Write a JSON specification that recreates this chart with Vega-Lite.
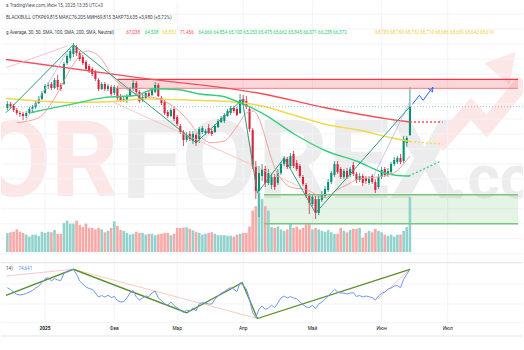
{
"$schema":"https://vega.github.io/schema/vega-lite/v6.json",
"width":524,"height":350,
"autosize":{"type":"fit","contains":"padding"},
"padding":0,
"background":"#ffffff",
"config":{"view":{"stroke":null},"font":"Roboto"},
"datasets":{
"bars":[
{"i":-12,"o":73.46,"h":74.40,"l":73.19,"c":73.99,"v":21.7,"r":56.3},
{"i":-11,"o":73.99,"h":74.26,"l":73.33,"c":73.73,"v":22.7,"r":54.5},
{"i":-10,"o":73.73,"h":73.99,"l":72.93,"c":73.19,"v":23.3,"r":52},
{"i":-9,"o":73.19,"h":73.46,"l":72.53,"c":72.79,"v":26,"r":49.7},
{"i":-8,"o":72.79,"h":73.06,"l":72.26,"c":72.66,"v":23.3,"r":49},
{"i":-7,"o":72.66,"h":72.93,"l":71.86,"c":72.39,"v":22,"r":49.5},
{"i":-6,"o":72.39,"h":73.06,"l":72.13,"c":72.79,"v":20,"r":50.5},
{"i":-5,"o":72.79,"h":73.59,"l":72.66,"c":73.33,"v":17.7,"r":52},
{"i":-4,"o":73.33,"h":73.86,"l":72.93,"c":73.59,"v":20,"r":53.5},
{"i":-3,"o":73.59,"h":74.40,"l":73.33,"c":74.13,"v":20,"r":56},
{"i":-2,"o":74.13,"h":75.06,"l":73.99,"c":74.66,"v":18.3,"r":58},
{"i":-1,"o":74.66,"h":75.73,"l":74.53,"c":75.46,"v":23.3,"r":61.5},
{"i":0,"o":75.46,"h":76.67,"l":75.33,"c":76.40,"v":22,"r":65},
{"i":1,"o":76.40,"h":76.93,"l":76.00,"c":76.53,"v":23.3,"r":66.3},
{"i":2,"o":76.67,"h":76.93,"l":75.86,"c":76.13,"v":22.7,"r":63},
{"i":3,"o":76.13,"h":77.47,"l":76.00,"c":77.20,"v":25.3,"r":65.5},
{"i":4,"o":77.20,"h":77.87,"l":75.86,"c":76.26,"v":21,"r":64},
{"i":5,"o":76.53,"h":76.80,"l":75.73,"c":76.00,"v":21,"r":63.5},
{"i":6,"o":76.67,"h":79.60,"l":76.53,"c":79.33,"v":33.3,"r":70.5},
{"i":7,"o":79.47,"h":80.67,"l":79.20,"c":80.40,"v":36,"r":72.5},
{"i":8,"o":80.14,"h":81.34,"l":79.74,"c":81.07,"v":32.7,"r":74},
{"i":9,"o":80.67,"h":82.14,"l":80.27,"c":81.74,"v":32.7,"r":74.7},
{"i":10,"o":81.60,"h":81.87,"l":80.40,"c":80.80,"v":36,"r":69.7},
{"i":11,"o":80.80,"h":81.07,"l":79.74,"c":80.00,"v":31,"r":63},
{"i":12,"o":80.27,"h":80.54,"l":79.20,"c":79.47,"v":28.7,"r":60},
{"i":13,"o":79.60,"h":79.87,"l":78.40,"c":78.67,"v":32.7,"r":57},
{"i":14,"o":79.07,"h":79.33,"l":78.13,"c":78.40,"v":27.7,"r":55.5},
{"i":15,"o":78.67,"h":78.93,"l":77.73,"c":78.00,"v":27.7,"r":54.7},
{"i":16,"o":78.27,"h":78.53,"l":77.07,"c":77.33,"v":26,"r":51},
{"i":17,"o":77.20,"h":77.47,"l":75.73,"c":76.00,"v":27.7,"r":47},
{"i":18,"o":76.00,"h":76.93,"l":75.86,"c":76.67,"v":26,"r":48.5},
{"i":19,"o":76.67,"h":76.93,"l":75.73,"c":76.00,"v":22.7,"r":47},
{"i":20,"o":76.00,"h":76.67,"l":75.73,"c":76.40,"v":24.3,"r":48.7},
{"i":21,"o":76.26,"h":76.53,"l":75.06,"c":75.33,"v":27.7,"r":46.5},
{"i":22,"o":75.46,"h":76.53,"l":75.20,"c":76.26,"v":35.3,"r":47.5},
{"i":23,"o":76.13,"h":76.40,"l":74.53,"c":74.80,"v":30,"r":43.5},
{"i":24,"o":75.06,"h":75.33,"l":74.26,"c":74.40,"v":25.3,"r":42},
{"i":25,"o":74.53,"h":74.93,"l":74.26,"c":74.66,"v":24.3,"r":42.5},
{"i":26,"o":74.40,"h":75.33,"l":74.13,"c":75.06,"v":22,"r":46},
{"i":27,"o":75.06,"h":76.26,"l":74.93,"c":76.00,"v":20,"r":51},
{"i":28,"o":76.00,"h":77.33,"l":75.73,"c":76.80,"v":21,"r":53.5},
{"i":29,"o":76.80,"h":77.07,"l":75.33,"c":75.60,"v":23.3,"r":47},
{"i":30,"o":75.60,"h":75.86,"l":74.13,"c":74.40,"v":22,"r":44},
{"i":31,"o":74.53,"h":75.33,"l":74.26,"c":74.93,"v":22,"r":46},
{"i":32,"o":74.80,"h":75.73,"l":74.66,"c":75.46,"v":20,"r":48},
{"i":33,"o":75.46,"h":75.73,"l":74.80,"c":75.06,"v":21,"r":47.5},
{"i":34,"o":75.20,"h":76.13,"l":75.06,"c":75.86,"v":21,"r":51},
{"i":35,"o":75.60,"h":76.93,"l":75.46,"c":76.53,"v":19.3,"r":53},
{"i":36,"o":76.53,"h":76.80,"l":74.93,"c":75.06,"v":20.3,"r":46},
{"i":37,"o":74.80,"h":75.06,"l":73.86,"c":74.13,"v":21,"r":43.5},
{"i":38,"o":74.26,"h":74.53,"l":72.53,"c":72.79,"v":22,"r":40},
{"i":39,"o":72.93,"h":73.19,"l":72.13,"c":72.39,"v":22,"r":39},
{"i":40,"o":72.39,"h":73.46,"l":72.26,"c":73.19,"v":19.3,"r":42},
{"i":41,"o":73.33,"h":73.59,"l":71.73,"c":71.99,"v":21,"r":38.5},
{"i":42,"o":72.26,"h":72.53,"l":71.06,"c":71.32,"v":27.7,"r":36.3},
{"i":43,"o":71.06,"h":71.32,"l":69.99,"c":70.26,"v":27.7,"r":34},
{"i":44,"o":70.26,"h":70.52,"l":68.39,"c":69.19,"v":28.3,"r":31.5},
{"i":45,"o":69.19,"h":70.26,"l":68.92,"c":69.86,"v":28.3,"r":34},
{"i":46,"o":69.99,"h":70.39,"l":69.06,"c":69.32,"v":26.7,"r":33},
{"i":47,"o":69.06,"h":70.39,"l":68.65,"c":69.99,"v":25,"r":36},
{"i":48,"o":69.86,"h":70.12,"l":68.39,"c":68.79,"v":23.3,"r":33},
{"i":49,"o":69.32,"h":70.92,"l":68.79,"c":70.66,"v":22,"r":40},
{"i":50,"o":70.26,"h":71.06,"l":69.99,"c":70.79,"v":20,"r":41.5},
{"i":51,"o":70.12,"h":70.66,"l":69.86,"c":70.39,"v":21,"r":40.7},
{"i":52,"o":70.79,"h":71.32,"l":69.99,"c":70.12,"v":22,"r":40},
{"i":53,"o":70.39,"h":70.66,"l":69.72,"c":69.99,"v":22.7,"r":40},
{"i":54,"o":70.26,"h":71.32,"l":70.12,"c":71.06,"v":21,"r":44.7},
{"i":55,"o":70.92,"h":71.99,"l":70.79,"c":71.73,"v":19.3,"r":48},
{"i":56,"o":71.59,"h":72.39,"l":71.46,"c":72.13,"v":19.3,"r":50.7},
{"i":57,"o":71.73,"h":72.79,"l":71.46,"c":72.53,"v":19.3,"r":52.5},
{"i":58,"o":72.39,"h":73.33,"l":72.26,"c":73.06,"v":18.7,"r":54.7},
{"i":59,"o":72.79,"h":73.73,"l":72.53,"c":73.46,"v":18.7,"r":56.3},
{"i":60,"o":73.46,"h":73.73,"l":72.79,"c":73.06,"v":17.7,"r":54.7},
{"i":61,"o":73.33,"h":73.59,"l":72.39,"c":72.53,"v":20,"r":52.5},
{"i":62,"o":72.79,"h":75.33,"l":72.66,"c":74.53,"v":21,"r":61.3},
{"i":63,"o":74.66,"h":75.20,"l":73.86,"c":74.13,"v":22,"r":58.7},
{"i":64,"o":74.40,"h":75.06,"l":73.33,"c":73.59,"v":22,"r":55},
{"i":65,"o":73.33,"h":73.59,"l":70.26,"c":70.66,"v":29.3,"r":44.7},
{"i":66,"o":70.52,"h":70.79,"l":65.32,"c":65.72,"v":47.7,"r":31.3},
{"i":67,"o":65.72,"h":66.38,"l":61.31,"c":62.38,"v":52.7,"r":26.3},
{"i":68,"o":62.38,"h":65.72,"l":58.91,"c":64.78,"v":67.7,"r":34.7},
{"i":69,"o":64.38,"h":65.98,"l":63.71,"c":65.32,"v":61,"r":38},
{"i":70,"o":65.32,"h":65.72,"l":62.91,"c":63.45,"v":52.7,"r":34.7},
{"i":71,"o":63.45,"h":65.32,"l":63.18,"c":64.78,"v":47.7,"r":36},
{"i":72,"o":63.18,"h":64.78,"l":62.65,"c":64.25,"v":28.7,"r":38.7},
{"i":73,"o":64.25,"h":64.65,"l":62.51,"c":62.91,"v":27.7,"r":36.3},
{"i":74,"o":63.45,"h":65.32,"l":63.18,"c":64.78,"v":29.3,"r":41},
{"i":75,"o":64.78,"h":66.25,"l":64.52,"c":65.98,"v":26,"r":46},
{"i":76,"o":65.98,"h":67.05,"l":65.72,"c":66.79,"v":24.3,"r":48},
{"i":77,"o":66.65,"h":66.92,"l":65.32,"c":65.58,"v":26,"r":46},
{"i":78,"o":65.72,"h":67.45,"l":65.45,"c":67.05,"v":33.3,"r":47.5},
{"i":79,"o":67.32,"h":67.72,"l":65.45,"c":65.72,"v":27.7,"r":46},
{"i":80,"o":66.12,"h":66.52,"l":65.05,"c":65.32,"v":29.3,"r":45.3},
{"i":81,"o":65.72,"h":65.98,"l":64.12,"c":64.38,"v":26,"r":42},
{"i":82,"o":64.25,"h":64.52,"l":63.05,"c":63.31,"v":27.7,"r":39.5},
{"i":83,"o":63.18,"h":63.45,"l":61.45,"c":61.71,"v":32,"r":37},
{"i":84,"o":61.71,"h":62.11,"l":59.31,"c":60.78,"v":32,"r":36.5},
{"i":85,"o":60.64,"h":61.98,"l":60.38,"c":61.58,"v":26,"r":38.7},
{"i":86,"o":61.31,"h":61.71,"l":58.64,"c":59.44,"v":27.7,"r":35.5},
{"i":87,"o":59.44,"h":61.71,"l":59.17,"c":61.31,"v":26,"r":40},
{"i":88,"o":61.18,"h":62.38,"l":60.91,"c":61.98,"v":24.3,"r":42},
{"i":89,"o":61.71,"h":63.05,"l":61.45,"c":62.65,"v":23.3,"r":44.7},
{"i":90,"o":62.51,"h":63.98,"l":62.25,"c":63.58,"v":25.3,"r":48},
{"i":91,"o":63.58,"h":65.05,"l":63.31,"c":64.78,"v":22.7,"r":51.3},
{"i":92,"o":64.52,"h":66.38,"l":64.25,"c":65.98,"v":21,"r":54.7},
{"i":93,"o":65.98,"h":66.38,"l":64.65,"c":64.92,"v":21,"r":52},
{"i":94,"o":65.32,"h":65.58,"l":63.98,"c":64.25,"v":27.7,"r":51},
{"i":95,"o":64.25,"h":65.32,"l":63.98,"c":65.05,"v":24.3,"r":51},
{"i":96,"o":65.05,"h":65.45,"l":63.98,"c":64.25,"v":22.7,"r":50},
{"i":97,"o":64.52,"h":65.58,"l":64.25,"c":65.32,"v":25.3,"r":51},
{"i":98,"o":65.85,"h":66.25,"l":64.38,"c":64.65,"v":26.7,"r":51.3},
{"i":99,"o":64.65,"h":64.92,"l":63.45,"c":63.85,"v":26.7,"r":47.5},
{"i":100,"o":63.85,"h":64.78,"l":63.58,"c":64.38,"v":27.7,"r":48.5},
{"i":101,"o":64.38,"h":64.65,"l":63.05,"c":63.45,"v":16.7,"r":47},
{"i":102,"o":64.12,"h":64.38,"l":63.31,"c":63.71,"v":22,"r":48},
{"i":103,"o":63.45,"h":64.38,"l":63.18,"c":63.98,"v":24.3,"r":47.3},
{"i":104,"o":64.38,"h":64.65,"l":63.31,"c":63.58,"v":22.7,"r":46.3},
{"i":105,"o":63.58,"h":63.98,"l":62.11,"c":62.51,"v":26.7,"r":44},
{"i":106,"o":62.91,"h":64.65,"l":62.65,"c":64.25,"v":24.3,"r":48},
{"i":107,"o":64.25,"h":65.58,"l":63.98,"c":65.18,"v":22.7,"r":50.7},
{"i":108,"o":65.32,"h":65.58,"l":64.25,"c":64.52,"v":20,"r":52},
{"i":109,"o":64.52,"h":65.45,"l":64.25,"c":65.05,"v":18.7,"r":54.7},
{"i":110,"o":64.92,"h":66.25,"l":64.65,"c":65.98,"v":20,"r":56},
{"i":111,"o":65.98,"h":66.92,"l":65.72,"c":66.52,"v":17.7,"r":58},
{"i":112,"o":66.25,"h":67.05,"l":65.98,"c":66.79,"v":20,"r":58.5},
{"i":113,"o":66.79,"h":67.32,"l":65.98,"c":66.25,"v":20,"r":56.3},
{"i":114,"o":66.38,"h":69.72,"l":66.12,"c":69.32,"v":24.3,"r":64.7},
{"i":115,"o":68.79,"h":69.72,"l":68.25,"c":69.46,"v":28.7,"r":69.7},
{"i":116,"o":69.815,"h":76.205,"l":69.815,"c":73.635,"v":63.3,"r":74.641}
],
"months":[{"i":22,"m":"Фев"},{"i":42,"m":"Мар"},{"i":63,"m":"Апр"},{"i":85,"m":"Май"},{"i":107,"m":"Июн"},{"i":128,"m":"Июл"}],
"years":[{"i":0,"m":"2025"}],
"vgrid":[{"i":0},{"i":22},{"i":42},{"i":63},{"i":85},{"i":107},{"i":128}],
"hgrid":[{"p":54},{"p":56},{"p":58},{"p":60},{"p":62},{"p":64},{"p":66},{"p":68},{"p":70},{"p":72},{"p":74},{"p":76},{"p":78},{"p":80},{"p":82},{"p":84},{"p":86}],
"zones":[{"z":"res","i0":23,"i1":150.36,"p0":76.09,"p1":77.29},{"z":"sup","i0":69.6,"i1":150.36,"p0":58.01,"p1":61.88}],
"sma200":[{"i":-12.43,"p":79.94},{"i":29.5,"p":77.51},{"i":69,"p":75.36},{"i":89.1,"p":73.5},{"i":109.8,"p":71.95},{"i":116,"p":71.59}],
"sma100":[{"i":-12.43,"p":74.73},{"i":-2.2,"p":74.40},{"i":8.3,"p":74.2},{"i":21.7,"p":74.33},{"i":31.1,"p":74.66},{"i":49.7,"p":74.46},{"i":60,"p":74.26},{"i":69,"p":73.73},{"i":78.9,"p":72.53},{"i":89.4,"p":71.26},{"i":99.7,"p":70.52},{"i":110,"p":69.49},{"i":116,"p":68.99}],
"sma50":[{"i":-4.5,"p":72.83},{"i":-2.2,"p":73.06},{"i":8.3,"p":73.95},{"i":18.6,"p":74.84},{"i":29,"p":75.16},{"i":35.1,"p":76.04},{"i":41.9,"p":75.93},{"i":49.7,"p":75.29},{"i":55.9,"p":75.06},{"i":63.2,"p":73.95},{"i":69,"p":72.79},{"i":79.2,"p":69.99},{"i":89.4,"p":67.72},{"i":99.4,"p":66.32},{"i":107.7,"p":64.82},{"i":114.9,"p":64.38},{"i":116,"p":64.38}],
"sma30":[{"i":-9,"p":71.5},{"i":-2.2,"p":72.12},{"i":4,"p":75.46},{"i":8.3,"p":78.84},{"i":13.4,"p":81.07},{"i":17.6,"p":80.18},{"i":21.7,"p":77.51},{"i":26.9,"p":75.73},{"i":32,"p":75.06},{"i":36.3,"p":74.66},{"i":41.3,"p":73.5},{"i":45.6,"p":71.73},{"i":49.7,"p":69.5},{"i":52.8,"p":68.83},{"i":56.9,"p":69.05},{"i":61.1,"p":71.06},{"i":64.2,"p":72.83},{"i":66.2,"p":73.06},{"i":69.4,"p":70.39},{"i":70.9,"p":68.16},{"i":73,"p":65.49},{"i":75.6,"p":63.71},{"i":78.7,"p":62.82},{"i":82.9,"p":62.6},{"i":86,"p":61.94},{"i":89.1,"p":61.48},{"i":92.2,"p":62.38},{"i":96.3,"p":63.27},{"i":99.4,"p":63.94},{"i":103.5,"p":64.16},{"i":107.7,"p":64.38},{"i":111.8,"p":65.05},{"i":113.9,"p":65.95},{"i":116,"p":67.05}],
"ext":[{"k":"s200","i":116,"p":71.59},{"k":"s200","i":126.4,"p":71.59},{"k":"s100","i":116,"p":68.99},{"k":"s100","i":126.4,"p":68.63},{"k":"s50","i":115.6,"p":64.38},{"k":"s50","i":125.9,"p":66.38}],
"zz":[{"i":-12.43,"p":72.83},{"i":9,"p":81.9},{"i":48,"p":68.83},{"i":62.7,"p":74.6},{"i":67.5,"p":62.1},{"i":76,"p":66.79},{"i":86,"p":59.44},{"i":116,"p":73.635}],
"tl":[{"g":"a","i":-12.43,"p":78.84},{"g":"a","i":7.1,"p":81.74},{"g":"b","i":-6.2,"p":71.72},{"g":"b","i":7.8,"p":81.5},{"g":"c","i":21.75,"p":74.22},{"g":"c","i":80.8,"p":63.02},{"g":"d","i":104.2,"p":64.16},{"g":"d","i":115.8,"p":74.16}],
"fc":[{"g":"path","i":116.8,"p":73.95},{"g":"path","i":119.0,"p":75.16},{"g":"path","i":120.2,"p":74.49},{"g":"path","i":123.3,"p":76.26},{"g":"head","i":121.8,"p":76.08},{"g":"head","i":123.3,"p":76.26},{"g":"head","i":123.2,"p":75.60}],
"wmarrow":[{"i":124.9,"p":68.39},{"i":135.4,"p":73.33},{"i":140.4,"p":71.06},{"i":152.2,"p":77.07}],
"wmhead":[{"i":146.6,"p":79.47}],
"rsizz":[{"i":-12.43,"r":48.7},{"i":9,"r":74.7},{"i":45,"r":31.3},{"i":62.7,"r":61.3},{"i":67.5,"r":25.5},{"i":116,"r":74.7}],
"rsitl":[{"g":"a","i":-12.43,"r":68},{"g":"a","i":9,"r":74.7},{"g":"b","i":9,"r":74.7},{"g":"b","i":67.5,"r":25.5},{"g":"c","i":105.7,"r":44.7},{"g":"c","i":116,"r":74.7}],
"rgrid":[{"r":40},{"r":60}],
"panes":[{"r":81.3,"w":"a"},{"r":21.3,"w":"b"},{"r":8,"w":"a"}]
},
"layer":[
{"layer":[
 {"data":{"values":[{}]},"mark":{"type":"text","text":"OR","align":"right","baseline":"alphabetic","font":"Roboto","fontWeight":"bold","fontSize":105,"color":"#fde6e6","clip":true},
  "encoding":{"x":{"datum":23.3,"type":"quantitative","scale":{"domain":[-12.426,150.36],"nice":false,"zero":false},"axis":null},"y":{"datum":61.71,"type":"quantitative","scale":{"domain":[53.17,87.746],"range":[259,0],"nice":false,"zero":false},"axis":null}}},
 {"data":{"values":[{}]},"mark":{"type":"text","text":"FOREX","align":"left","baseline":"alphabetic","font":"Roboto","fontWeight":"bold","fontSize":110,"color":"#ececec","clip":true},
  "encoding":{"x":{"datum":24.2,"type":"quantitative","scale":{"domain":[-12.426,150.36],"nice":false,"zero":false},"axis":null},"y":{"datum":61.44,"type":"quantitative","scale":{"domain":[53.17,87.746],"range":[259,0],"nice":false,"zero":false},"axis":null}}},
 {"data":{"values":[{}]},"mark":{"type":"text","text":".com","align":"left","baseline":"alphabetic","font":"Roboto","fontWeight":"bold","fontSize":62,"color":"#ececec","clip":true},
  "encoding":{"x":{"datum":128.6,"type":"quantitative","scale":{"domain":[-12.426,150.36],"nice":false,"zero":false},"axis":null},"y":{"datum":61.44,"type":"quantitative","scale":{"domain":[53.17,87.746],"range":[259,0],"nice":false,"zero":false},"axis":null}}},
 {"data":{"name":"wmarrow"},"mark":{"type":"line","strokeWidth":15,"color":"#fde6e6","clip":true,"strokeJoin":"miter","strokeCap":"butt"},
  "encoding":{"x":{"field":"i","type":"quantitative","scale":{"domain":[-12.426,150.36],"nice":false,"zero":false},"axis":null},"y":{"field":"p","type":"quantitative","scale":{"domain":[53.17,87.746],"range":[259,0],"nice":false,"zero":false},"axis":null}}},
 {"data":{"name":"wmhead"},"mark":{"type":"point","shape":"triangle-up","size":1100,"angle":40,"filled":true,"color":"#fde6e6","opacity":1,"clip":true},
  "encoding":{"x":{"field":"i","type":"quantitative","scale":{"domain":[-12.426,150.36],"nice":false,"zero":false},"axis":null},"y":{"field":"p","type":"quantitative","scale":{"domain":[53.17,87.746],"range":[259,0],"nice":false,"zero":false},"axis":null}}},
 {"data":{"name":"hgrid"},"mark":{"type":"rule","color":"#f0f3fa","strokeWidth":1},
  "encoding":{"y":{"field":"p","type":"quantitative","scale":{"domain":[53.17,87.746],"range":[259,0],"nice":false,"zero":false},"axis":null}}},
 {"data":{"name":"vgrid"},"mark":{"type":"rule","color":"#f0f3fa","strokeWidth":1},
  "encoding":{"x":{"field":"i","type":"quantitative","scale":{"domain":[-12.426,150.36],"nice":false,"zero":false},"axis":null},"y":{"datum":87.746,"type":"quantitative","scale":{"domain":[53.17,87.746],"range":[259,0],"nice":false,"zero":false},"axis":null},"y2":{"datum":44.79}}},
 {"data":{"name":"zones"},"transform":[{"filter":"datum.z == 'sup'"}],"mark":{"type":"rect","color":"#4caf50","opacity":0.14,"clip":true},
  "encoding":{"x":{"field":"i0","type":"quantitative","scale":{"domain":[-12.426,150.36],"nice":false,"zero":false},"axis":null},"x2":{"field":"i1"},"y":{"field":"p0","type":"quantitative","scale":{"domain":[53.17,87.746],"range":[259,0],"nice":false,"zero":false},"axis":null},"y2":{"field":"p1"}}},
 {"data":{"name":"zones"},"transform":[{"filter":"datum.z == 'res'"}],"mark":{"type":"rect","color":"#f23645","opacity":0.2,"clip":true},
  "encoding":{"x":{"field":"i0","type":"quantitative","scale":{"domain":[-12.426,150.36],"nice":false,"zero":false},"axis":null},"x2":{"field":"i1"},"y":{"field":"p0","type":"quantitative","scale":{"domain":[53.17,87.746],"range":[259,0],"nice":false,"zero":false},"axis":null},"y2":{"field":"p1"}}}
]},
{"data":{"name":"bars"},"mark":{"type":"bar","width":2.6},
 "encoding":{"x":{"field":"i","type":"quantitative","scale":{"domain":[-12.426,150.36],"nice":false,"zero":false},"axis":null},
  "y":{"field":"v","type":"quantitative","stack":null,"scale":{"domain":[0,288.8],"range":[251,0],"nice":false,"zero":true},"axis":null},
  "color":{"condition":{"test":"datum.c >= datum.o","value":"#92d2cc"},"value":"#f7a9a7"}}},
{"layer":[
 {"data":{"name":"bars"},"mark":{"type":"rule","strokeWidth":0.8},
  "encoding":{"x":{"field":"i","type":"quantitative","scale":{"domain":[-12.426,150.36],"nice":false,"zero":false},"axis":null},"y":{"field":"l","type":"quantitative","scale":{"domain":[53.17,87.746],"range":[259,0],"nice":false,"zero":false},"axis":null},"y2":{"field":"h"},
   "color":{"condition":{"test":"datum.c >= datum.o","value":"#0b8e74"},"value":"#d7263d"}}},
 {"data":{"name":"bars"},"mark":{"type":"bar","width":2.1},
  "encoding":{"x":{"field":"i","type":"quantitative","scale":{"domain":[-12.426,150.36],"nice":false,"zero":false},"axis":null},"y":{"field":"o","type":"quantitative","scale":{"domain":[53.17,87.746],"range":[259,0],"nice":false,"zero":false},"axis":null},"y2":{"field":"c"},
   "color":{"condition":{"test":"datum.c >= datum.o","value":"#0b8e74"},"value":"#d7263d"}}},
 {"data":{"name":"zones"},"transform":[{"filter":"datum.z == 'sup'"},{"fold":["p0","p1"],"as":["e","pv"]}],"mark":{"type":"rule","color":"#7cc47f","strokeWidth":1.3,"clip":true},
  "encoding":{"x":{"field":"i0","type":"quantitative","scale":{"domain":[-12.426,150.36],"nice":false,"zero":false},"axis":null},"x2":{"field":"i1"},"y":{"field":"pv","type":"quantitative","scale":{"domain":[53.17,87.746],"range":[259,0],"nice":false,"zero":false},"axis":null}}},
 {"data":{"name":"zones"},"transform":[{"filter":"datum.z == 'res'"}],"mark":{"type":"rule","color":"#f23645","strokeWidth":1.3,"clip":true},
  "encoding":{"x":{"field":"i0","type":"quantitative","scale":{"domain":[-12.426,150.36],"nice":false,"zero":false},"axis":null},"x2":{"field":"i1"},"y":{"field":"p1","type":"quantitative","scale":{"domain":[53.17,87.746],"range":[259,0],"nice":false,"zero":false},"axis":null}}},
 {"data":{"name":"zones"},"transform":[{"filter":"datum.z == 'res'"}],"mark":{"type":"rule","color":"#f47a82","strokeWidth":1,"clip":true},
  "encoding":{"x":{"field":"i0","type":"quantitative","scale":{"domain":[-12.426,150.36],"nice":false,"zero":false},"axis":null},"x2":{"field":"i1"},"y":{"field":"p0","type":"quantitative","scale":{"domain":[53.17,87.746],"range":[259,0],"nice":false,"zero":false},"axis":null}}},
 {"data":{"name":"sma200"},"mark":{"type":"line","color":"#f0505a","strokeWidth":1.4,"interpolate":"monotone"},
  "encoding":{"x":{"field":"i","type":"quantitative","scale":{"domain":[-12.426,150.36],"nice":false,"zero":false},"axis":null},"y":{"field":"p","type":"quantitative","scale":{"domain":[53.17,87.746],"range":[259,0],"nice":false,"zero":false},"axis":null}}},
 {"data":{"name":"sma100"},"mark":{"type":"line","color":"#f3d84a","strokeWidth":1.4,"interpolate":"monotone"},
  "encoding":{"x":{"field":"i","type":"quantitative","scale":{"domain":[-12.426,150.36],"nice":false,"zero":false},"axis":null},"y":{"field":"p","type":"quantitative","scale":{"domain":[53.17,87.746],"range":[259,0],"nice":false,"zero":false},"axis":null}}},
 {"data":{"name":"sma50"},"mark":{"type":"line","color":"#35d07f","strokeWidth":1.4,"interpolate":"monotone"},
  "encoding":{"x":{"field":"i","type":"quantitative","scale":{"domain":[-12.426,150.36],"nice":false,"zero":false},"axis":null},"y":{"field":"p","type":"quantitative","scale":{"domain":[53.17,87.746],"range":[259,0],"nice":false,"zero":false},"axis":null}}},
 {"data":{"name":"sma30"},"mark":{"type":"line","color":"#f39a94","strokeWidth":0.9,"interpolate":"monotone"},
  "encoding":{"x":{"field":"i","type":"quantitative","scale":{"domain":[-12.426,150.36],"nice":false,"zero":false},"axis":null},"y":{"field":"p","type":"quantitative","scale":{"domain":[53.17,87.746],"range":[259,0],"nice":false,"zero":false},"axis":null}}},
 {"data":{"name":"tl"},"transform":[{"filter":"datum.g == 'a'"}],"mark":{"type":"line","color":"#f8b4bb","strokeWidth":0.8},
  "encoding":{"x":{"field":"i","type":"quantitative","scale":{"domain":[-12.426,150.36],"nice":false,"zero":false},"axis":null},"y":{"field":"p","type":"quantitative","scale":{"domain":[53.17,87.746],"range":[259,0],"nice":false,"zero":false},"axis":null}}},
 {"data":{"name":"tl"},"transform":[{"filter":"datum.g == 'c'"}],"mark":{"type":"line","color":"#f6bdb0","strokeWidth":0.8},
  "encoding":{"x":{"field":"i","type":"quantitative","scale":{"domain":[-12.426,150.36],"nice":false,"zero":false},"axis":null},"y":{"field":"p","type":"quantitative","scale":{"domain":[53.17,87.746],"range":[259,0],"nice":false,"zero":false},"axis":null}}},
 {"data":{"name":"tl"},"transform":[{"filter":"datum.g == 'b' || datum.g == 'd'"}],"mark":{"type":"line","color":"#c2b4ea","strokeWidth":0.8},
  "encoding":{"x":{"field":"i","type":"quantitative","scale":{"domain":[-12.426,150.36],"nice":false,"zero":false},"axis":null},"y":{"field":"p","type":"quantitative","scale":{"domain":[53.17,87.746],"range":[259,0],"nice":false,"zero":false},"axis":null},"detail":{"field":"g"}}},
 {"data":{"name":"zz"},"mark":{"type":"line","color":"#2f9a78","strokeWidth":1},
  "encoding":{"x":{"field":"i","type":"quantitative","scale":{"domain":[-12.426,150.36],"nice":false,"zero":false},"axis":null},"y":{"field":"p","type":"quantitative","scale":{"domain":[53.17,87.746],"range":[259,0],"nice":false,"zero":false},"axis":null}}},
 {"data":{"values":[{}]},"mark":{"type":"rule","color":"#6cbcaf","strokeWidth":0.7,"strokeDash":[1,2]},
  "encoding":{"y":{"datum":73.635,"type":"quantitative","scale":{"domain":[53.17,87.746],"range":[259,0],"nice":false,"zero":false},"axis":null}}},
 {"data":{"name":"ext"},"transform":[{"filter":"datum.k == 's200'"}],"mark":{"type":"line","color":"#f0505a","strokeWidth":1.3,"strokeDash":[2,2]},
  "encoding":{"x":{"field":"i","type":"quantitative","scale":{"domain":[-12.426,150.36],"nice":false,"zero":false},"axis":null},"y":{"field":"p","type":"quantitative","scale":{"domain":[53.17,87.746],"range":[259,0],"nice":false,"zero":false},"axis":null}}},
 {"data":{"name":"ext"},"transform":[{"filter":"datum.k == 's100'"}],"mark":{"type":"line","color":"#f3d84a","strokeWidth":1.3,"strokeDash":[2,2]},
  "encoding":{"x":{"field":"i","type":"quantitative","scale":{"domain":[-12.426,150.36],"nice":false,"zero":false},"axis":null},"y":{"field":"p","type":"quantitative","scale":{"domain":[53.17,87.746],"range":[259,0],"nice":false,"zero":false},"axis":null}}},
 {"data":{"name":"ext"},"transform":[{"filter":"datum.k == 's50'"}],"mark":{"type":"line","color":"#35d07f","strokeWidth":1.3,"strokeDash":[2,2]},
  "encoding":{"x":{"field":"i","type":"quantitative","scale":{"domain":[-12.426,150.36],"nice":false,"zero":false},"axis":null},"y":{"field":"p","type":"quantitative","scale":{"domain":[53.17,87.746],"range":[259,0],"nice":false,"zero":false},"axis":null}}},
 {"data":{"name":"fc"},"mark":{"type":"line","color":"#2962ff","strokeWidth":1},
  "encoding":{"x":{"field":"i","type":"quantitative","scale":{"domain":[-12.426,150.36],"nice":false,"zero":false},"axis":null},"y":{"field":"p","type":"quantitative","scale":{"domain":[53.17,87.746],"range":[259,0],"nice":false,"zero":false},"axis":null},"detail":{"field":"g"}}},
 {"data":{"values":[{}]},"mark":{"type":"text","text":"а TradingView.com, Июн 15, 2025 13:35 UTC+3","align":"left","baseline":"middle","font":"Roboto","fontSize":4.6,"color":"#50535e","clip":true},
  "encoding":{"x":{"datum":-12.426,"type":"quantitative","scale":{"domain":[-12.426,150.36],"nice":false,"zero":false},"axis":null},"y":{"datum":87.08,"type":"quantitative","scale":{"domain":[53.17,87.746],"range":[259,0],"nice":false,"zero":false},"axis":null}}},
 {"data":{"values":[{}]},"mark":{"type":"text","text":"BLACKBULL  ОТКР69,815  МАКС76,205  МИН69,815  ЗАКР73,635  +3,980 (+5,72%)","align":"left","baseline":"middle","font":"Roboto","fontSize":4.6,"color":"#3c3f4a","clip":true},
  "encoding":{"x":{"datum":-12.426,"type":"quantitative","scale":{"domain":[-12.426,150.36],"nice":false,"zero":false},"axis":null},"y":{"datum":85.52,"type":"quantitative","scale":{"domain":[53.17,87.746],"range":[259,0],"nice":false,"zero":false},"axis":null}}},
 {"data":{"values":[{}]},"mark":{"type":"text","text":"g Average, 30, 50, SMA, 100, SMA, 200, SMA, Neutral)","align":"left","baseline":"middle","font":"Roboto","fontSize":4.6,"color":"#3c3f4a","clip":true},
  "encoding":{"x":{"datum":-12.426,"type":"quantitative","scale":{"domain":[-12.426,150.36],"nice":false,"zero":false},"axis":null},"y":{"datum":83.54,"type":"quantitative","scale":{"domain":[53.17,87.746],"range":[259,0],"nice":false,"zero":false},"axis":null}}},
 {"data":{"values":[{}]},"mark":{"type":"text","text":"67,038","align":"left","baseline":"middle","font":"Roboto","fontSize":4.6,"color":"#ff4d4d","clip":true},
  "encoding":{"x":{"datum":25.78,"type":"quantitative","scale":{"domain":[-12.426,150.36],"nice":false,"zero":false},"axis":null},"y":{"datum":83.54,"type":"quantitative","scale":{"domain":[53.17,87.746],"range":[259,0],"nice":false,"zero":false},"axis":null}}},
 {"data":{"values":[{}]},"mark":{"type":"text","text":"64,508","align":"left","baseline":"middle","font":"Roboto","fontSize":4.6,"color":"#2bcf6c","clip":true},
  "encoding":{"x":{"datum":31.69,"type":"quantitative","scale":{"domain":[-12.426,150.36],"nice":false,"zero":false},"axis":null},"y":{"datum":83.54,"type":"quantitative","scale":{"domain":[53.17,87.746],"range":[259,0],"nice":false,"zero":false},"axis":null}}},
 {"data":{"values":[{}]},"mark":{"type":"text","text":"68,832","align":"left","baseline":"middle","font":"Roboto","fontSize":4.6,"color":"#f2cf3a","clip":true},
  "encoding":{"x":{"datum":37.28,"type":"quantitative","scale":{"domain":[-12.426,150.36],"nice":false,"zero":false},"axis":null},"y":{"datum":83.54,"type":"quantitative","scale":{"domain":[53.17,87.746],"range":[259,0],"nice":false,"zero":false},"axis":null}}},
 {"data":{"values":[{}]},"mark":{"type":"text","text":"71,456","align":"left","baseline":"middle","font":"Roboto","fontSize":4.6,"color":"#ff4d4d","clip":true},
  "encoding":{"x":{"datum":42.87,"type":"quantitative","scale":{"domain":[-12.426,150.36],"nice":false,"zero":false},"axis":null},"y":{"datum":83.54,"type":"quantitative","scale":{"domain":[53.17,87.746],"range":[259,0],"nice":false,"zero":false},"axis":null}}},
 {"data":{"values":[{}]},"mark":{"type":"text","text":"64,666  64,854  65,100  65,253  65,475  65,662  65,845  66,071  66,238  66,372","align":"left","baseline":"middle","font":"Roboto","fontSize":4.6,"color":"#2bcf6c","clip":true},
  "encoding":{"x":{"datum":48.77,"type":"quantitative","scale":{"domain":[-12.426,150.36],"nice":false,"zero":false},"axis":null},"y":{"datum":83.54,"type":"quantitative","scale":{"domain":[53.17,87.746],"range":[259,0],"nice":false,"zero":false},"axis":null}}},
 {"data":{"values":[{}]},"mark":{"type":"text","text":"68,783  68,760  68,732  68,710  68,686  68,659  68,642  68,619","align":"left","baseline":"middle","font":"Roboto","fontSize":4.6,"color":"#f2cf3a","clip":true},
  "encoding":{"x":{"datum":105.0,"type":"quantitative","scale":{"domain":[-12.426,150.36],"nice":false,"zero":false},"axis":null},"y":{"datum":83.54,"type":"quantitative","scale":{"domain":[53.17,87.746],"range":[259,0],"nice":false,"zero":false},"axis":null}}}
]},
{"layer":[
 {"data":{"name":"rgrid"},"mark":{"type":"rule","color":"#f0f3fa","strokeWidth":1},
  "encoding":{"y":{"field":"r","type":"quantitative","scale":{"domain":[20,80],"range":[323,263],"nice":false,"zero":false},"axis":null}}},
 {"data":{"name":"panes"},"transform":[{"filter":"datum.w == 'a'"}],"mark":{"type":"rule","color":"#e0e3eb","strokeWidth":1},
  "encoding":{"y":{"field":"r","type":"quantitative","scale":{"domain":[20,80],"range":[323,263],"nice":false,"zero":false},"axis":null}}},
 {"data":{"name":"panes"},"transform":[{"filter":"datum.w == 'b'"}],"mark":{"type":"rule","color":"#f0f3fa","strokeWidth":1},
  "encoding":{"y":{"field":"r","type":"quantitative","scale":{"domain":[20,80],"range":[323,263],"nice":false,"zero":false},"axis":null}}},
 {"data":{"name":"rsitl"},"transform":[{"filter":"datum.g != 'b'"}],"mark":{"type":"line","color":"#f6b9c6","strokeWidth":0.8},
  "encoding":{"x":{"field":"i","type":"quantitative","scale":{"domain":[-12.426,150.36],"nice":false,"zero":false},"axis":null},"y":{"field":"r","type":"quantitative","scale":{"domain":[20,80],"range":[323,263],"nice":false,"zero":false},"axis":null},"detail":{"field":"g"}}},
 {"data":{"name":"rsitl"},"transform":[{"filter":"datum.g == 'b'"}],"mark":{"type":"line","color":"#f3c2ad","strokeWidth":0.8},
  "encoding":{"x":{"field":"i","type":"quantitative","scale":{"domain":[-12.426,150.36],"nice":false,"zero":false},"axis":null},"y":{"field":"r","type":"quantitative","scale":{"domain":[20,80],"range":[323,263],"nice":false,"zero":false},"axis":null}}},
 {"data":{"name":"rsizz"},"mark":{"type":"line","color":"#5b8c2a","strokeWidth":1.3},
  "encoding":{"x":{"field":"i","type":"quantitative","scale":{"domain":[-12.426,150.36],"nice":false,"zero":false},"axis":null},"y":{"field":"r","type":"quantitative","scale":{"domain":[20,80],"range":[323,263],"nice":false,"zero":false},"axis":null}}},
 {"data":{"name":"bars"},"mark":{"type":"line","color":"#6f96f7","strokeWidth":1},
  "encoding":{"x":{"field":"i","type":"quantitative","scale":{"domain":[-12.426,150.36],"nice":false,"zero":false},"axis":null},"y":{"field":"r","type":"quantitative","scale":{"domain":[20,80],"range":[323,263],"nice":false,"zero":false},"axis":null}}},
 {"data":{"name":"months"},"mark":{"type":"text","align":"center","baseline":"middle","font":"Roboto","fontSize":4.8,"color":"#131722"},
  "encoding":{"x":{"field":"i","type":"quantitative","scale":{"domain":[-12.426,150.36],"nice":false,"zero":false},"axis":null},"y":{"datum":15,"type":"quantitative","scale":{"domain":[20,80],"range":[323,263],"nice":false,"zero":false},"axis":null},"text":{"field":"m"}}},
 {"data":{"name":"years"},"mark":{"type":"text","align":"center","baseline":"middle","font":"Roboto","fontSize":4.8,"fontWeight":"bold","color":"#131722"},
  "encoding":{"x":{"field":"i","type":"quantitative","scale":{"domain":[-12.426,150.36],"nice":false,"zero":false},"axis":null},"y":{"datum":15,"type":"quantitative","scale":{"domain":[20,80],"range":[323,263],"nice":false,"zero":false},"axis":null},"text":{"field":"m"}}},
 {"data":{"values":[{}]},"mark":{"type":"text","text":"14)","align":"left","baseline":"middle","font":"Roboto","fontSize":4.6,"color":"#3c3f4a"},
  "encoding":{"x":{"datum":-12.426,"type":"quantitative","scale":{"domain":[-12.426,150.36],"nice":false,"zero":false},"axis":null},"y":{"datum":74.7,"type":"quantitative","scale":{"domain":[20,80],"range":[323,263],"nice":false,"zero":false},"axis":null}}},
 {"data":{"values":[{}]},"mark":{"type":"text","text":"74,641","align":"left","baseline":"middle","font":"Roboto","fontSize":4.6,"color":"#5b8def"},
  "encoding":{"x":{"datum":-8.48,"type":"quantitative","scale":{"domain":[-12.426,150.36],"nice":false,"zero":false},"axis":null},"y":{"datum":74.7,"type":"quantitative","scale":{"domain":[20,80],"range":[323,263],"nice":false,"zero":false},"axis":null}}}
]}
],
"resolve":{"scale":{"y":"independent"}}
}
